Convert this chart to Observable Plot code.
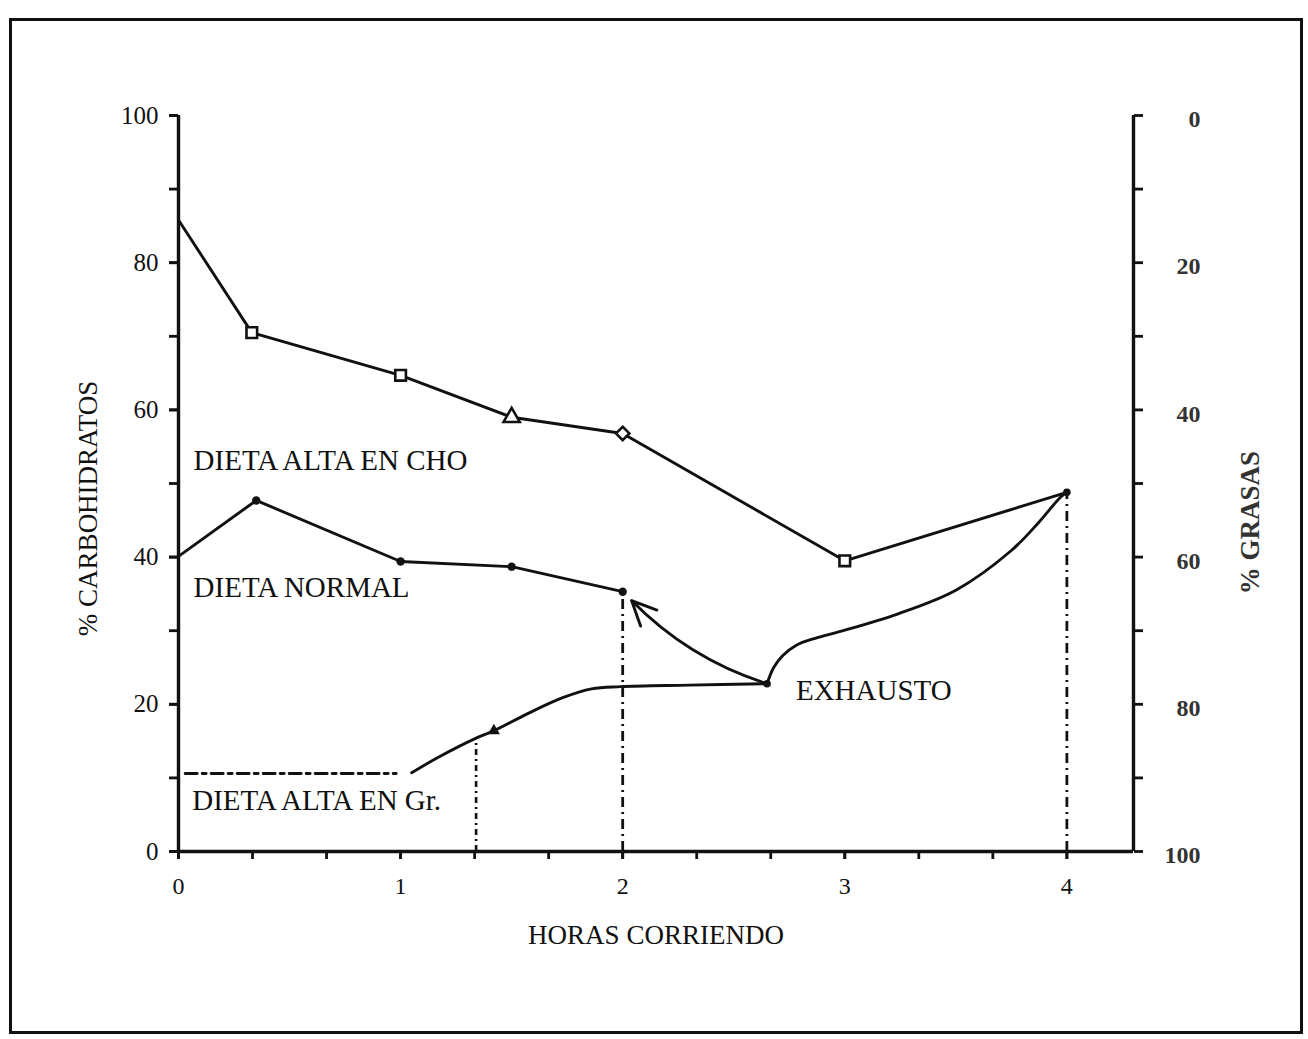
<!DOCTYPE html>
<html><head><meta charset="utf-8">
<script src="https://cdn.jsdelivr.net/npm/d3@7"></script>
<script src="https://cdn.jsdelivr.net/npm/@observablehq/plot@0.6"></script>
<style>
body{margin:0;background:#fff;}
#wrap{position:relative;width:1308px;height:1039px;overflow:hidden;background:#fff;}
#border{position:absolute;left:9px;top:18px;width:1294px;height:1016px;border:3px solid #111;box-sizing:border-box;}
#chart{position:absolute;left:0;top:0;}
</style></head>
<body><div id="wrap"><div id="border"></div><div id="chart"></div></div>
<script>
// ---- data ----
const choHours = [0, 0.33, 1, 1.5, 2, 3, 4];
const choPct   = [85.8, 70.5, 64.7, 59.0, 56.8, 39.5, 48.8];
const choSymbol = [null, "square", "square", "triangle", "diamond2", "square", null];

const normalHours = [0, 0.35, 1, 1.5, 2];
const normalPct   = [40.1, 47.7, 39.4, 38.7, 35.3];

const fatFlatHours = [0.03, 0.98];
const fatFlatPct   = [10.6, 10.6];
const fatRiseHours = [1.05, 1.17, 1.34, 1.42, 1.57, 1.73, 1.86, 1.99, 2.3, 2.65];
const fatRisePct   = [10.7, 12.8, 15.4, 16.4, 18.7, 20.9, 22.1, 22.4, 22.6, 22.8];
const fatLateHours = [2.65, 2.68, 2.72, 2.78, 2.87, 2.98, 3.24, 3.5, 3.75, 3.87, 3.97, 4.0];
const fatLatePct   = [22.8, 25.0, 26.6, 28.0, 29.0, 29.9, 32.3, 35.5, 40.9, 44.6, 48.1, 48.8];
const fatMarkHour = 1.42, fatMarkPct = 16.4;

const exhaustHour = 2.65, exhaustPct = 22.8;
const arrowToHour = 2.04, arrowToPct = 34.1;

const dropHours = [1.34, 2, 4];
const dropPct   = [15.4, 35.3, 48.8];

const xTickLabels = [0, 1, 2, 3, 4];
const xMinorTicks = d3.range(0, 13).map(i => i / 3);
const yTickLabels = [0, 20, 40, 60, 80, 100];
const yMinorTicks = d3.range(0, 101, 10);
const fatTickLabels = [0, 20, 40, 60, 80, 100];

const seriesLabels = [
  {text: "DIETA ALTA EN CHO", hour: 0.068, pct: 53.1},
  {text: "DIETA NORMAL", hour: 0.068, pct: 35.9},
  {text: "DIETA ALTA EN Gr.", hour: 0.062, pct: 6.9},
  {text: "EXHAUSTO", hour: 2.78, pct: 21.9}
];

// ---- tables ----
const cho = choHours.map((h, i) => ({h, p: choPct[i], s: choSymbol[i]}));
const normal = normalHours.map((h, i) => ({h, p: normalPct[i]}));
const fatFlat = fatFlatHours.map((h, i) => ({h, p: fatFlatPct[i]}));
const fatRise = fatRiseHours.map((h, i) => ({h, p: fatRisePct[i]}));
const fatLate = fatLateHours.map((h, i) => ({h, p: fatLatePct[i]}));
const drops = dropHours.map((h, i) => ({h, p: dropPct[i]}));

const ink = "#111";
const font = "'Liberation Serif', 'Times New Roman', serif";
const sw = 2.9;

const chart = Plot.plot({
  width: 1308, height: 1039,
  marginLeft: 178, marginRight: 175, marginTop: 115, marginBottom: 188,
  x: {domain: [0, 4.3], axis: null},
  y: {domain: [0, 100], axis: null},
  style: {fontFamily: font, color: ink, background: "transparent"},
  marks: [
    // left axis
    Plot.axisY({anchor: "left", ticks: yMinorTicks, tickSize: 9, tickFormat: () => "", strokeWidth: 2.8, label: null}),
    Plot.axisY({anchor: "left", ticks: yTickLabels, tickSize: 9, tickPadding: 11, fontSize: 25, strokeWidth: 2.8, tickFormat: d => String(d), label: null}),
    // right axis (grasas = 100 - carbohidratos)
    Plot.axisY({anchor: "right", ticks: yMinorTicks, tickSize: 9, tickFormat: () => "", strokeWidth: 2.8, label: null}),
    Plot.text(fatTickLabels, {y: d => 100 - d, text: d => String(d), frameAnchor: "right", dx: 67, dy: 4, textAnchor: "end", fontSize: 24, fontWeight: "bold", fill: "#333"}),
    // x axis
    Plot.axisX({ticks: xMinorTicks, tickSize: 8, tickFormat: () => "", strokeWidth: 2.8, label: null}),
    Plot.axisX({ticks: xTickLabels, tickSize: 8, tickPadding: 17, fontSize: 24, strokeWidth: 2.8, tickFormat: d => String(d), label: null}),
    Plot.ruleX([0], {stroke: ink, strokeWidth: 3.4}),
    Plot.ruleX([4.3], {stroke: ink, strokeWidth: 3.4}),
    Plot.ruleY([0], {stroke: ink, strokeWidth: 3.4}),
    // axis titles
    Plot.text(["% CARBOHIDRATOS"], {frameAnchor: "left", textAnchor: "middle", dx: -90, dy: 25, rotate: -90, fontSize: 27, fill: ink}),
    Plot.text(["% GRASAS"], {frameAnchor: "right", textAnchor: "middle", dx: 117, dy: 39, rotate: -90, fontSize: 27, fill: "#333", fontWeight: "bold"}),
    Plot.text(["HORAS CORRIENDO"], {frameAnchor: "bottom", dy: 92, fontSize: 27, fill: ink}),
    // drop lines
    Plot.ruleX(drops.filter(d => d.h < 1.5), {x: "h", y1: 0, y2: "p", stroke: ink, strokeWidth: 2.6, strokeDasharray: "6,4,2,4"}),
    Plot.ruleX(drops.filter(d => d.h >= 1.5), {x: "h", y1: 0, y2: "p", stroke: ink, strokeWidth: 2.8, strokeDasharray: "10,5,2,5"}),
    // high-fat diet
    Plot.line(fatFlat, {x: "h", y: "p", stroke: ink, strokeWidth: sw, strokeDasharray: "12,5,4,5"}),
    Plot.line(fatRise, {x: "h", y: "p", stroke: ink, strokeWidth: sw, curve: "catmull-rom"}),
    Plot.line(fatLate, {x: "h", y: "p", stroke: ink, strokeWidth: sw, curve: "catmull-rom"}),
    Plot.dot([{h: fatMarkHour, p: fatMarkPct}], {x: "h", y: "p", symbol: "triangle", r: 4.5, fill: ink}),
    Plot.dot([{h: exhaustHour, p: exhaustPct}], {x: "h", y: "p", r: 3.8, fill: ink}),
    Plot.arrow([{x1: exhaustHour, y1: exhaustPct, x2: arrowToHour, y2: arrowToPct}],
      {x1: "x1", y1: "y1", x2: "x2", y2: "y2", bend: 14, headLength: 14, headAngle: 50, stroke: ink, strokeWidth: sw}),
    // normal diet
    Plot.line(normal, {x: "h", y: "p", stroke: ink, strokeWidth: sw}),
    Plot.dot(normal.slice(1), {x: "h", y: "p", r: 4.2, fill: ink}),
    // high-CHO diet
    Plot.line(cho, {x: "h", y: "p", stroke: ink, strokeWidth: sw}),
    Plot.dot(cho.filter(d => d.s), {x: "h", y: "p", symbol: "s", r: 6, fill: "white", stroke: ink, strokeWidth: 2.6}),
    Plot.dot(cho.slice(-1), {x: "h", y: "p", r: 3.8, fill: ink}),
    // series labels
    Plot.text(seriesLabels, {x: "hour", y: "pct", text: "text", textAnchor: "start", lineAnchor: "middle", fontSize: 29, fill: ink})
  ]
});
document.getElementById("chart").appendChild(chart);
</script>
</body></html>
